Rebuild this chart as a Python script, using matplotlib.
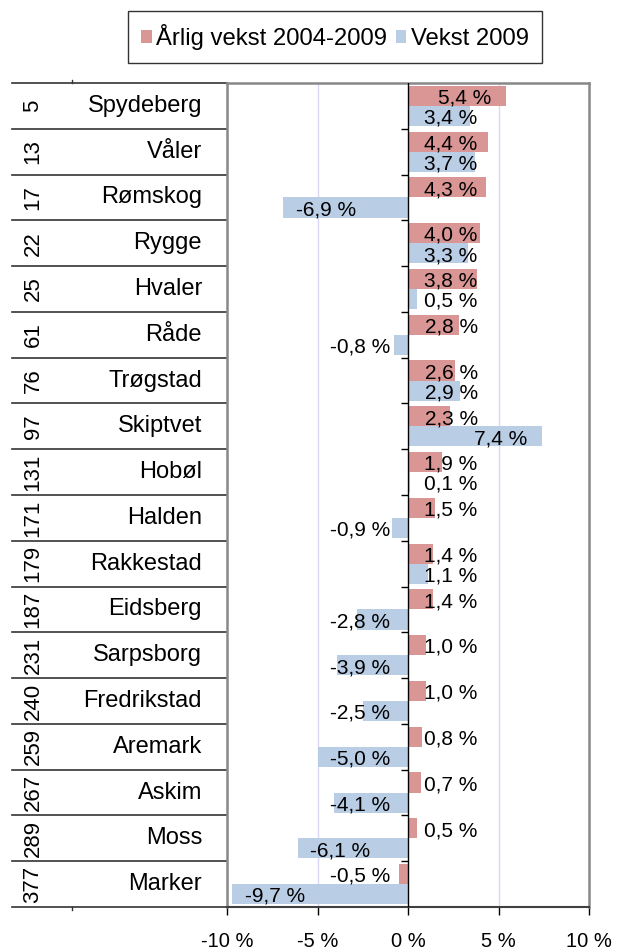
import matplotlib
matplotlib.use('Agg')
import matplotlib.pyplot as plt
import matplotlib.transforms as mtransforms
from matplotlib.patches import Patch
import numpy as np

# Data
kommuner = ['Spydeberg', 'Våler', 'Rømskog', 'Rygge', 'Hvaler', 'Råde', 'Trøgstad',
            'Skiptvet', 'Hobøl', 'Halden', 'Rakkestad', 'Eidsberg', 'Sarpsborg',
            'Fredrikstad', 'Aremark', 'Askim', 'Moss', 'Marker']
rangering = [5, 13, 17, 22, 25, 61, 76, 97, 131, 171, 179, 187, 231, 240, 259, 267, 289, 377]
arlig_vekst = [5.4, 4.4, 4.3, 4.0, 3.8, 2.8, 2.6, 2.3, 1.9, 1.5, 1.4, 1.4, 1.0, 1.0, 0.8, 0.7, 0.5, -0.5]
vekst_2009 = [3.4, 3.7, -6.9, 3.3, 0.5, -0.8, 2.9, 7.4, 0.1, -0.9, 1.1, -2.8, -3.9, -2.5, -5.0, -4.1, -6.1, -9.7]
serier = ['Årlig vekst 2004-2009', 'Vekst 2009']
x_ticks = [-10, -5, 0, 5, 10]

RED = '#D99694'
BLUE = '#B9CDE5'
FONT = 'Liberation Sans'


def fmt(v):
    return f"{v:.1f}".replace('.', ',') + " %"


def label_bar(ax, y, v):
    # positive labels sit at the bar end but never closer to the axis than ~3.9 %
    if v >= 0:
        ax.text(max(3.85, v - 0.8), y, fmt(v), ha='right', va='center',
                fontsize=15, family=FONT)
    elif v < -5:
        ax.text(v + 0.7, y, fmt(v), ha='left', va='center', fontsize=15, family=FONT)
    else:
        ax.text(-1.0, y, fmt(v), ha='right', va='center', fontsize=15, family=FONT)


def main():
    plt.rcParams['font.family'] = [FONT, 'DejaVu Sans']
    W, H = 617, 951
    fig = plt.figure(figsize=(W / 100, H / 100), dpi=100)
    ax = fig.add_axes([227 / W, 1 - 907 / H, 362 / W, (907 - 83) / H])

    n = len(kommuner)
    y = np.arange(n)
    h = 0.44
    ax.barh(y - h / 2, arlig_vekst, height=h, color=RED, zorder=2)
    ax.barh(y + h / 2, vekst_2009, height=h, color=BLUE, zorder=2)

    for i in range(n):
        label_bar(ax, y[i] - h / 2 + 0.05, arlig_vekst[i])
        label_bar(ax, y[i] + h / 2 + 0.05, vekst_2009[i])

    ax.set_xlim(-10, 10)
    ax.set_ylim(n - 0.5, -0.5)
    ax.set_yticks([])
    ax.set_xticks(x_ticks)
    ax.set_xticklabels([f"{t} %" for t in x_ticks], fontsize=14.5, family=FONT)
    ax.tick_params(axis='x', direction='out', length=6, width=1, color='black', pad=12)

    for t in [-5, 5]:
        ax.axvline(t, color='#D9D9F3', lw=1, zorder=1)

    # zero axis with category ticks
    ax.axvline(0, color='black', lw=1, zorder=3)
    bounds = np.arange(n + 1) - 0.5
    ax.hlines(bounds[1:-1], -0.38, 0, color='black', lw=1, zorder=3)

    for s in ['left', 'top', 'right']:
        ax.spines[s].set_color('#888888')
        ax.spines[s].set_linewidth(1.8)
    ax.spines['bottom'].set_color('#404040')
    ax.spines['bottom'].set_linewidth(1.5)

    # left label table
    tr = mtransforms.blended_transform_factory(fig.transFigure, ax.transData)
    for b in bounds:
        ax.plot([12 / W, 227 / W], [b, b], transform=tr, color='#333333', lw=1.2, clip_on=False)
    for b in [bounds[0], bounds[-1]]:
        ax.plot([72 / W, 72 / W], [b, b - 0.06 if b < 0 else b + 0.06], transform=tr,
                color='#333333', lw=1, clip_on=False)
    for i in range(n):
        ax.text(33 / W, y[i], str(rangering[i]), transform=tr, rotation=90,
                ha='center', va='center', fontsize=16, family=FONT)
        ax.text(202 / W, y[i], kommuner[i], transform=tr, ha='right', va='center',
                fontsize=17, family=FONT)

    handles = [Patch(facecolor=RED, edgecolor='none'), Patch(facecolor=BLUE, edgecolor='none')]
    leg = fig.legend(handles, serier, loc='center', bbox_to_anchor=(335 / W, 1 - 37 / H),
                     ncol=2, frameon=True, fancybox=False, prop={'family': FONT, 'size': 17.2},
                     handlelength=0.45, handleheight=0.45, handletextpad=0.2,
                     columnspacing=0.35, borderpad=0.55, borderaxespad=0)
    leg.get_frame().set_edgecolor('black')
    leg.get_frame().set_linewidth(1)

    fig.savefig('out.png', dpi=100)


if __name__ == "__main__":
    main()
